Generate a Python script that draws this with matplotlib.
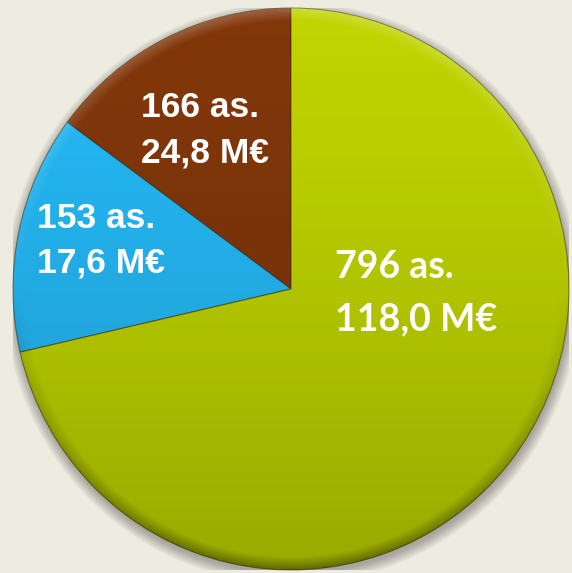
import numpy as np
import matplotlib.pyplot as plt
from matplotlib.patches import Ellipse

# slices, counter-clockwise from 12 o'clock
counts = [166, 153, 796]
amounts = [24.8, 17.6, 118.0]
colors = ['#82370a', '#25b9f6', '#c0d400']

# label layout (pixels in the 572x573 picture: left x, baseline y of each line)
label_pos = [(141, 117, 46), (37, 228, 45), (335, 278, 52)]
label_font = [('Liberation Sans', 25.5), ('Liberation Sans', 25.5), ('Lato', 27)]

W, H = 572, 573
cx, cy, rx, ry = 291, 289, 278, 281

fig = plt.figure(figsize=(W / 100, H / 100), dpi=100)
fig.patch.set_facecolor('#eeece1')
ax = fig.add_axes([(cx - rx) / W, (H - cy - ry) / H, 2 * rx / W, 2 * ry / H])


def px(x, y):
    return (x - cx) / rx, (cy - y) / ry


# soft drop shadow
for i in range(10):
    ax.add_patch(Ellipse((0.004, -0.014), 2 + 0.008 * i, 2 + 0.008 * i,
                         color='black', alpha=0.03, lw=0, zorder=0))

wedges, _ = ax.pie(counts, colors=colors, startangle=90, counterclock=True,
                   radius=1, wedgeprops=dict(edgecolor='#33250080', linewidth=0.8))

n = 400
yy, xx = np.mgrid[1:-1:n * 1j, -1:1:n * 1j]
rr = np.hypot(xx, yy)
clip = Ellipse((0, 0), 2, 2, transform=ax.transData)

# vertical shading, darker toward the bottom
shade = np.zeros((n, n, 4))
shade[..., 3] = 0.2 * ((1 - yy) / 2) ** 1.3
# rim bevel: dark toward the lower edge
rim = np.clip((rr - 0.955) / 0.045, 0, 1)
shade[..., 3] += rim * np.clip(-yy, 0, 1) * 0.3
im = ax.imshow(shade, extent=(-1, 1, -1, 1), zorder=3, aspect='auto',
               interpolation='bilinear')
im.set_clip_path(clip)

# rim bevel: light toward the upper edge
light = np.ones((n, n, 4))
light[..., 3] = rim * np.clip(yy, 0, 1) * 0.22
im2 = ax.imshow(light, extent=(-1, 1, -1, 1), zorder=3, aspect='auto',
                interpolation='bilinear')
im2.set_clip_path(clip)

for c, m, (lx, ly, dy), (fam, fs) in zip(counts, amounts, label_pos, label_font):
    lines = [f'{c} as.', f'{m:.1f}'.replace('.', ',') + ' M€']
    for k, t in enumerate(lines):
        x, y = px(lx, ly + k * dy)
        ax.text(x, y, t, ha='left', va='baseline', color='white',
                fontsize=fs, fontweight='bold', family=fam, zorder=5)

ax.set_xlim(-1, 1)
ax.set_ylim(-1, 1)
ax.set_aspect('auto')
ax.axis('off')

fig.savefig('out.png', dpi=100, facecolor=fig.get_facecolor())
